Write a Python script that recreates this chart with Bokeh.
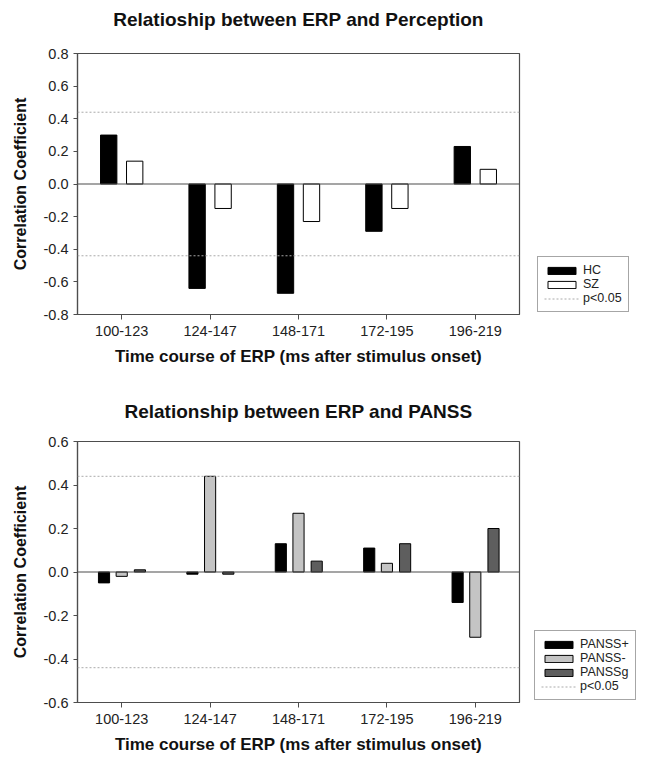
from bokeh.plotting import figure
from bokeh.models import (FactorRange, Range1d, ColumnDataSource, FixedTicker,
                          NumeralTickFormatter, Span, Legend, LegendItem, Title)
from bokeh.transform import dodge
from bokeh.layouts import column, row
from bokeh.embed import file_html
from bokeh.resources import INLINE

# ---------------- data ----------------
time_windows = ["100-123", "124-147", "148-171", "172-195", "196-219"]

hc = [0.30, -0.64, -0.67, -0.29, 0.23]
sz = [0.14, -0.15, -0.23, -0.15, 0.09]

panss_pos = [-0.05, -0.01, 0.13, 0.11, -0.14]
panss_neg = [-0.02, 0.44, 0.27, 0.04, -0.30]
panss_g = [0.01, -0.01, 0.05, 0.13, 0.20]

p_crit = 0.44

top_yticks = [-0.8, -0.6, -0.4, -0.2, 0.0, 0.2, 0.4, 0.6, 0.8]
bottom_yticks = [-0.6, -0.4, -0.2, 0.0, 0.2, 0.4, 0.6]

top_title = "Relatioship between ERP and Perception"
bottom_title = "Relationship between ERP and PANSS"
x_label = "Time course of ERP (ms after stimulus onset)"
y_label = "Correlation Coefficient"

FONT = "Liberation Sans"
AX = "#4d4d4d"
DOT = "#aaaaaa"


def make_fig(title, height, yticks, border_top, border_bottom, spacer_standoff, title_standoff):
    p = figure(
        width=521, height=height,
        x_range=FactorRange(factors=time_windows, range_padding=0),
        y_range=Range1d(yticks[0], yticks[-1]),
        output_backend="svg", toolbar_location=None,
        min_border_left=77, min_border_right=2,
        min_border_top=border_top, min_border_bottom=border_bottom,
    )
    # thin spacer right above the frame, then the real title above it
    p.add_layout(Title(text=" ", text_font_size="4px", standoff=spacer_standoff), "above")
    p.add_layout(Title(text=title, text_font=FONT, text_font_size="19px",
                       text_font_style="bold", align="center", vertical_align="top",
                       text_color="#111111", standoff=title_standoff), "above")

    p.xgrid.visible = False
    p.ygrid.visible = False
    p.outline_line_color = AX
    p.outline_line_width = 1.2

    p.yaxis.ticker = FixedTicker(ticks=yticks)
    p.yaxis.formatter = NumeralTickFormatter(format="0.0")
    for ax in (p.xaxis, p.yaxis):
        ax.axis_line_color = AX
        ax.axis_line_width = 1.2
        ax.major_tick_line_color = AX
        ax.major_tick_in = 0
        ax.minor_tick_line_color = None
        ax.major_label_text_font = FONT
        ax.major_label_text_font_size = "14.5px"
        ax.major_label_text_color = "#222222"
        ax.axis_label_text_font = FONT
        ax.axis_label_text_font_style = "bold"
        ax.axis_label_text_color = "#111111"
    p.yaxis.major_tick_out = 4
    p.yaxis.major_label_standoff = 5
    p.yaxis.axis_label = y_label
    p.yaxis.axis_label_text_font_size = "16px"
    p.yaxis.axis_label_standoff = 12
    p.xaxis.major_tick_out = 5
    p.xaxis.major_label_standoff = 6
    p.xaxis.axis_label = x_label
    p.xaxis.axis_label_text_font_size = "17px"
    p.xaxis.axis_label_standoff = 8

    for loc in (p_crit, -p_crit):
        p.add_layout(Span(location=loc, dimension="width", line_color=DOT,
                          line_width=1, line_dash="2 2"))
    p.add_layout(Span(location=0, dimension="width", line_color=AX, line_width=1.2))
    return p


def legend_fig(height, specs, source, loc):
    """Narrow panel beside the chart holding its legend (proxy renderers are hidden)."""
    lf = figure(width=119, height=height,
                x_range=FactorRange(factors=time_windows), y_range=Range1d(5, 6),
                output_backend="svg", toolbar_location=None,
                x_axis_location=None, y_axis_location=None,
                min_border=0)
    lf.grid.visible = False
    lf.outline_line_color = None
    items = []
    for label, field, off, w, fill in specs:
        r = lf.vbar(x=dodge("cat", off, range=lf.x_range), top=field, width=w,
                    source=source, fill_color=fill, line_color="black", visible=False)
        items.append(LegendItem(label=label, renderers=[r]))
    r_dot = lf.line(x=time_windows, y=[p_crit] * len(time_windows),
                    line_color=DOT, line_dash="2 2", line_width=1, visible=False)
    items.append(LegendItem(label="p<0.05", renderers=[r_dot]))
    lg = Legend(items=items, location=loc)
    lg.margin = 0
    lg.padding = 6
    lg.spacing = 0
    lg.label_height = 11
    lg.glyph_height = 9
    lg.glyph_width = 35
    lg.label_standoff = 4
    lg.label_text_font = FONT
    lg.label_text_font_size = "12.5px"
    lg.label_text_color = "#222222"
    lg.border_line_color = AX
    lg.border_line_width = 1.2
    lg.background_fill_alpha = 1
    lf.add_layout(lg)
    return lf


# ---------------- top chart ----------------
src1 = ColumnDataSource(dict(cat=time_windows, hc=hc, sz=sz))
p1 = make_fig(top_title, 390, top_yticks, 52, 76, 7, 16)
p1.vbar(x=dodge("cat", -0.147, range=p1.x_range), top="hc", width=0.185,
        source=src1, fill_color="black", line_color="black")
p1.vbar(x=dodge("cat", 0.147, range=p1.x_range), top="sz", width=0.185,
        source=src1, fill_color="white", line_color="black")
l1 = legend_fig(390, [("HC", "hc", -0.147, 0.185, "black"),
                      ("SZ", "sz", 0.147, 0.185, "white")], src1, (16, 2))

# ---------------- bottom chart ----------------
src2 = ColumnDataSource(dict(cat=time_windows, pos=panss_pos, neg=panss_neg, g=panss_g))
p2 = make_fig(bottom_title, 366, bottom_yticks, 50, 54, 1, 20)
p2.vbar(x=dodge("cat", -0.2, range=p2.x_range), top="pos", width=0.126,
        source=src2, fill_color="black", line_color="black")
p2.vbar(x=dodge("cat", 0.0, range=p2.x_range), top="neg", width=0.126,
        source=src2, fill_color="#c4c4c4", line_color="black")
p2.vbar(x=dodge("cat", 0.206, range=p2.x_range), top="g", width=0.126,
        source=src2, fill_color="#5e5e5e", line_color="black")
l2 = legend_fig(366, [("PANSS+", "pos", -0.2, 0.126, "black"),
                      ("PANSS-", "neg", 0.0, 0.126, "#c4c4c4"),
                      ("PANSSg", "g", 0.206, 0.126, "#5e5e5e")], src2, (13, 2))

layout = column(row(p1, l1, spacing=0), row(p2, l2, spacing=0), spacing=0)
open("out.html", "w").write(file_html(layout, INLINE))
